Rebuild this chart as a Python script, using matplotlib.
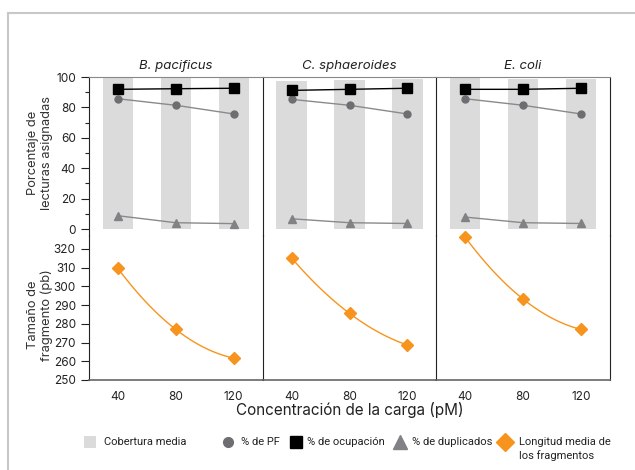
import numpy as np
import matplotlib
matplotlib.use('Agg')
import matplotlib.pyplot as plt
from matplotlib.lines import Line2D
from matplotlib.patches import Rectangle

plt.rcParams['font.family'] = ['Inter', 'DejaVu Sans']

species = ['B. pacificus', 'C. sphaeroides', 'E. coli']
loads = [40, 80, 120]
coverage = [[100, 100, 100], [97.5, 98, 98.5], [99.8, 98.7, 98.7]]
occupancy = [[91.9, 92.3, 92.6], [91.2, 91.9, 92.6], [91.9, 91.9, 92.6]]
pass_filter = [[85.7, 81.4, 75.7], [85.3, 81.4, 75.7], [85.7, 81.4, 75.7]]
duplicates = [[8.8, 4.2, 3.6], [6.8, 4.2, 3.7], [7.9, 4.2, 3.7]]
frag_len = [[309.6, 277.0, 261.7], [315.2, 285.6, 268.7], [326.2, 293.2, 277.0]]

GREY_BAR = '#dcdbdb'
GREY_PF = '#6d6e71'
GREY_DUP = '#808285'
ORANGE = '#f7941d'

W, H = 635, 470
fig = plt.figure(figsize=(W / 100, H / 100), dpi=100)


def fx(px):
    return px / W


def fy(py):
    return 1 - py / H


# outer frame (top + left only)
fig.add_artist(Line2D([fx(8), 1], [fy(12.5)] * 2, color='#c8c8c8', lw=1.5))
fig.add_artist(Line2D([fx(8)] * 2, [0, fy(12.5)], color='#c8c8c8', lw=1.5))

left, right = 89, 610
top, mid, bottom = 77, 235.5, 380
pw = (right - left) / 3

for i, name in enumerate(species):
    x0 = fx(left + i * pw)
    up = fig.add_axes([x0, fy(mid), pw / W, (mid - top) / H])
    lo = fig.add_axes([x0, fy(bottom), pw / W, (bottom - mid) / H])

    up.bar(loads, coverage[i], width=21, color=GREY_BAR, zorder=1)
    up.plot(loads, pass_filter[i], color='#8a8a8a', lw=1, marker='o', ms=5,
            mfc=GREY_PF, mec=GREY_PF, zorder=3)
    up.plot(loads, occupancy[i], color='black', lw=1, marker='s', ms=7,
            mfc='black', mec='black', zorder=4)
    up.plot(loads, duplicates[i], color='#8a8a8a', lw=1, marker='^', ms=5.5,
            mfc=GREY_DUP, mec=GREY_DUP, zorder=3)
    up.set_xlim(20, 140)
    up.set_ylim(-4.2, 100)
    up.set_title(name, style='italic', fontsize=9.5, color='#222222', pad=6)

    # smooth orange curve through the three points
    xs = np.linspace(loads[0], loads[-1], 100)
    coef = np.polyfit(loads, frag_len[i], 2)
    lo.plot(xs, np.polyval(coef, xs), color=ORANGE, lw=1, zorder=2)
    lo.plot(loads, frag_len[i], ls='none', marker='D', ms=6, mfc=ORANGE,
            mec=ORANGE, clip_on=False, zorder=3)
    lo.set_xlim(20, 140)
    lo.set_ylim(250, 327.2)
    lo.set_xticks(loads)
    lo.tick_params(axis='x', length=0, labelsize=8.5, pad=8, colors='#222222')

    for ax in (up, lo):
        ax.set_facecolor('none')
        ax.spines['right'].set_visible(i == 2)
        ax.spines['left'].set_color('#222222')
        ax.spines['right'].set_color('#222222')
    up.spines['bottom'].set_visible(False)
    up.spines['top'].set_color('#888888')
    lo.spines['top'].set_visible(False)
    lo.spines['bottom'].set_color('#666666')
    lo.spines['bottom'].set_linewidth(1.2)
    up.set_xticks([])

    if i == 0:
        up.set_yticks([0, 20, 40, 60, 80, 100])
        up.set_yticks([10, 30, 50, 70, 90], minor=True)
        up.tick_params(axis='y', which='major', length=6, labelsize=8.5,
                       colors='#222222', width=0.8)
        up.tick_params(axis='y', which='minor', length=3, width=0.8,
                       colors='#222222')
        lo.set_yticks(np.arange(250, 330, 10))
        lo.tick_params(axis='y', length=6, labelsize=8.5, colors='#222222',
                       width=0.8)
    else:
        up.set_yticks([])
        lo.set_yticks([])

fig.text(fx(40), fy(153), 'Porcentaje de\nlecturas asignadas', rotation=90,
         ha='center', va='center', fontsize=9.3, color='#333333',
         linespacing=1.15)
fig.text(fx(40), fy(315), 'Tamaño de\nfragmento (pb)', rotation=90,
         ha='center', va='center', fontsize=9.3, color='#333333',
         linespacing=1.15)
fig.text(fx(350), fy(410), 'Concentración de la carga (pM)', ha='center',
         va='center', fontsize=11, color='#222222')

# legend, placed by hand to follow the reference spacing
leg_y = 442
leg_kw = dict(family='Roboto', fontsize=8, color='#222222', va='center')
fig.add_artist(Rectangle((fx(84), fy(leg_y + 6)), 12 / W, 12 / H,
                         transform=fig.transFigure, color=GREY_BAR, lw=0))
fig.text(fx(104), fy(leg_y), 'Cobertura media', **leg_kw)

leg_items = [
    (228, 'o', 7, GREY_PF, 241, '% de PF'),
    (296, 's', 8.5, 'black', 307, '% de ocupación'),
    (400, '^', 10.5, GREY_DUP, 412, '% de duplicados'),
    (505, 'D', 9.5, ORANGE, 519, 'Longitud media de\nlos fragmentos'),
]
for mx, mk, ms, col, tx, label in leg_items:
    fig.add_artist(Line2D([fx(mx)], [fy(leg_y)], transform=fig.transFigure,
                          ls='none', marker=mk, ms=ms, mfc=col, mec=col))
    if '\n' in label:
        fig.text(fx(tx), fy(leg_y + 7), label, linespacing=1.3,
                 **leg_kw)
    else:
        fig.text(fx(tx), fy(leg_y), label, **leg_kw)

fig.savefig('out.png', dpi=100)
